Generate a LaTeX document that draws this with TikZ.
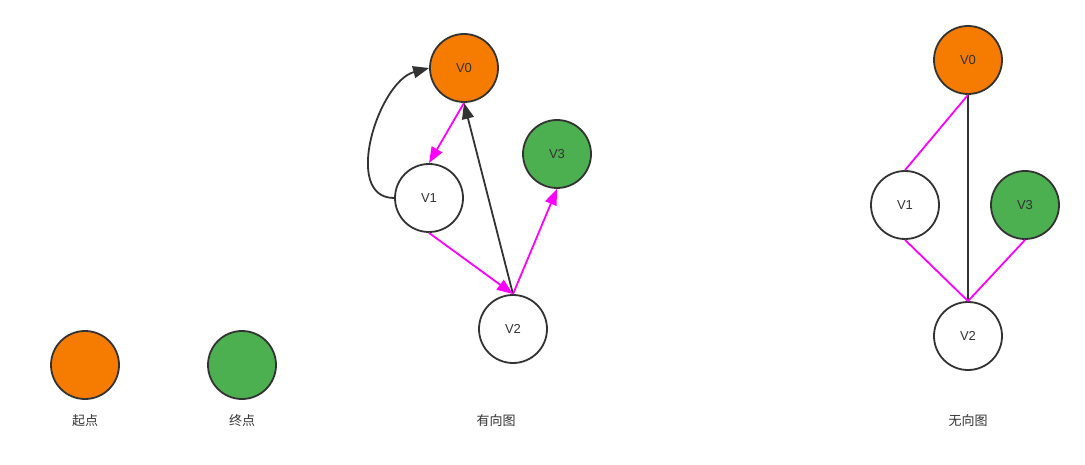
\documentclass[tikz,border=0pt]{standalone}
\usepackage{fontspec}
\setmainfont{Liberation Sans}
\newfontfamily\cjk{Noto Sans CJK SC}
\usetikzlibrary{arrows.meta}
\definecolor{myorange}{RGB}{245,124,0}
\definecolor{mygreen}{RGB}{76,175,80}
\definecolor{mymagenta}{RGB}{255,0,255}
\definecolor{mygray}{RGB}{51,51,51}
\tikzset{
  vertex/.style={circle,draw=mygray,line width=1.8pt,minimum size=68pt,inner sep=0,
    fill=white,text=mygray,font=\fontsize{13}{15}\selectfont},
  vertex start/.style={vertex,fill=myorange},
  vertex end/.style={vertex,fill=mygreen},
  connect/.style={line width=1.8pt,mygray},
  connect path/.style={line width=1.8pt,mymagenta},
  connect arrow/.style={-{Triangle[length=16pt,width=12pt]}},
  caption text/.style={text=mygray,font=\cjk\fontsize{13}{15}\selectfont}
}
\begin{document}
\begin{tikzpicture}[x=1pt,y=-1pt]
\useasboundingbox[fill=white] (0,0) rectangle (1085,465);
% legend
\path
(85,365)  node[vertex start] (ls) {}
(85,421)  node[caption text] (lsl) {起点}
(242,365) node[vertex end]   (le) {}
(242,421) node[caption text] (lel) {终点};
% directed graph
\path
(464,68)  node[vertex start] (d0) {V0}
(429,198) node[vertex]       (d1) {V1}
(557,154) node[vertex end]   (d3) {V3}
(513,329) node[vertex]       (d2) {V2}
(496,421) node[caption text] (dl) {有向图};
\draw[connect,connect arrow] (d1.west) to[out=180,in=195] (d0.west);
\draw[connect,connect arrow] (d2.north) -- (d0.south);
\draw[connect path,connect arrow] (d0.south) -- (d1.north);
\draw[connect path,connect arrow] (d1.south) -- (d2.north);
\draw[connect path,connect arrow] (d2.north) -- (d3.south);
% undirected graph
\path
(968,60)  node[vertex start] (u0) {V0}
(905,205) node[vertex]       (u1) {V1}
(1025,205) node[vertex end]  (u3) {V3}
(968,336) node[vertex]       (u2) {V2}
(968,421) node[caption text] (ul) {无向图};
\draw[connect] (u0.south) -- (u2.north);
\draw[connect path] (u0.south) -- (u1.north);
\draw[connect path] (u1.south) -- (u2.north);
\draw[connect path] (u3.south) -- (u2.north);
\end{tikzpicture}
\end{document}
